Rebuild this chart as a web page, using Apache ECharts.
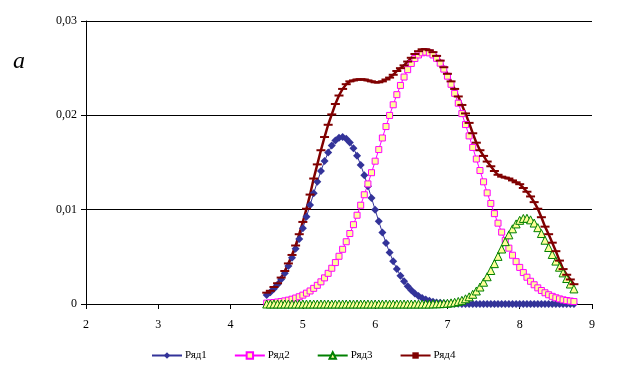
<!DOCTYPE html>
<html>
<head>
<meta charset="utf-8">
<script src="https://cdn.jsdelivr.net/npm/echarts@6/dist/echarts.min.js"></script>
<style>
  html, body { margin: 0; padding: 0; background: #fff; }
  #chart { width: 627px; height: 367px; }
</style>
</head>
<body>
<div id="chart"></div>
<script>
const seriesNames = ["Ряд1", "Ряд2", "Ряд3", "Ряд4"];

const xs = [
  4.50, 4.55, 4.60, 4.65, 4.70, 4.75, 4.80, 4.85, 4.90, 4.95,
  5.00, 5.05, 5.10, 5.15, 5.20, 5.25, 5.30, 5.35, 5.40, 5.45,
  5.50, 5.55, 5.60, 5.65, 5.70, 5.75, 5.80, 5.85, 5.90, 5.95,
  6.00, 6.05, 6.10, 6.15, 6.20, 6.25, 6.30, 6.35, 6.40, 6.45,
  6.50, 6.55, 6.60, 6.65, 6.70, 6.75, 6.80, 6.85, 6.90, 6.95,
  7.00, 7.05, 7.10, 7.15, 7.20, 7.25, 7.30, 7.35, 7.40, 7.45,
  7.50, 7.55, 7.60, 7.65, 7.70, 7.75, 7.80, 7.85, 7.90, 7.95,
  8.00, 8.05, 8.10, 8.15, 8.20, 8.25, 8.30, 8.35, 8.40, 8.45,
  8.50, 8.55, 8.60, 8.65, 8.70, 8.75
];

const ryad1 = [
  0.00095, 0.00125, 0.00162, 0.00208, 0.00263, 0.00327, 0.00403, 0.00489, 0.00585, 0.00690,
  0.00804, 0.00925, 0.01049, 0.01173, 0.01295, 0.01410, 0.01515, 0.01605, 0.01679, 0.01732,
  0.01762, 0.01770, 0.01753, 0.01713, 0.01652, 0.01571, 0.01474, 0.01365, 0.01247, 0.01123,
  0.00999, 0.00876, 0.00758, 0.00647, 0.00545, 0.00453, 0.00371, 0.00300, 0.00240, 0.00189,
  0.00146, 0.00112, 0.00085, 0.00063, 0.00047, 0.00034, 0.00024, 0.00017, 0.00012, 0.00008,
  0.00006, 0.00004, 0.00003, 0.00002, 0.00001, 0, 0, 0, 0, 0,
  0, 0, 0, 0, 0, 0, 0, 0, 0, 0,
  0, 0, 0, 0, 0, 0, 0, 0, 0, 0,
  0, 0, 0, 0, 0, 0
];

const ryad2 = [
  0.00009, 0.00012, 0.00016, 0.00021, 0.00026, 0.00033, 0.00041, 0.00051, 0.00063, 0.00077,
  0.00094, 0.00115, 0.00138, 0.00166, 0.00198, 0.00235, 0.00277, 0.00325, 0.00379, 0.00439,
  0.00506, 0.00580, 0.00660, 0.00747, 0.00841, 0.00941, 0.01047, 0.01158, 0.01273, 0.01392,
  0.01514, 0.01637, 0.01760, 0.01881, 0.01999, 0.02112, 0.02219, 0.02317, 0.02406, 0.02484,
  0.02550, 0.02602, 0.02640, 0.02663, 0.02670, 0.02662, 0.02640, 0.02604, 0.02553, 0.02490,
  0.02415, 0.02329, 0.02233, 0.02129, 0.02018, 0.01902, 0.01782, 0.01660, 0.01537, 0.01415,
  0.01295, 0.01178, 0.01066, 0.00958, 0.00857, 0.00762, 0.00674, 0.00592, 0.00517, 0.00449,
  0.00388, 0.00333, 0.00284, 0.00241, 0.00204, 0.00171, 0.00143, 0.00119, 0.00098, 0.00081,
  0.00066, 0.00054, 0.00044, 0.00037, 0.00031, 0.00026
];

const ryad3 = [
  0, 0, 0, 0, 0, 0, 0, 0, 0, 0,
  0, 0, 0, 0, 0, 0, 0, 0, 0, 0,
  0, 0, 0, 0, 0, 0, 0, 0, 0, 0,
  0, 0, 0, 0, 0, 0, 0, 0, 0, 0,
  0, 0, 0, 0, 0, 0, 0.00001, 0.00002, 0.00003, 0.00005,
  0.00008, 0.00012, 0.00018, 0.00027, 0.00039, 0.00055, 0.00076, 0.00103, 0.00138, 0.00180,
  0.00231, 0.00289, 0.00355, 0.00428, 0.00505, 0.00583, 0.00661, 0.00733, 0.00797, 0.00849,
  0.00887, 0.00907, 0.00909, 0.00892, 0.00858, 0.00809, 0.00747, 0.00676, 0.00599, 0.00525,
  0.00455, 0.00390, 0.00330, 0.00270, 0.00212, 0.00160
];

const ryad4 = [
  0.0012, 0.0014, 0.0018, 0.0022, 0.0028, 0.0035, 0.0043, 0.0052, 0.0062, 0.0074,
  0.0087, 0.0101, 0.0116, 0.0133, 0.0148, 0.0163, 0.0177, 0.0190, 0.0201, 0.0212,
  0.0221, 0.0228, 0.0233, 0.0236, 0.0237, 0.0238, 0.0238, 0.0238, 0.0237, 0.0236,
  0.0235, 0.0235, 0.0236, 0.0238, 0.0240, 0.0243, 0.0247, 0.0250, 0.0253, 0.0257,
  0.0261, 0.0265, 0.0268, 0.0270, 0.0270, 0.0269, 0.0267, 0.0263, 0.0258, 0.0251,
  0.0244, 0.0236, 0.0228, 0.0220, 0.0211, 0.0202, 0.0192, 0.0181, 0.0171, 0.0163,
  0.0157, 0.0151, 0.0146, 0.0141, 0.0137, 0.0135, 0.0134, 0.0133, 0.0131, 0.0129,
  0.0127, 0.0123, 0.0119, 0.0114, 0.0108, 0.0101, 0.0092, 0.0082, 0.0074, 0.0065,
  0.0056, 0.0046, 0.0037, 0.0031, 0.0026, 0.0021
];

const pairs = (ys) => xs.map((x, i) => [x, ys[i]]);
const serifFont = "'Liberation Serif', 'Times New Roman', serif";

const chart = echarts.init(document.getElementById("chart"), null, { renderer: "canvas" });
chart.setOption({
  animation: false,
  backgroundColor: "#fff",
  title: {
    text: "a",
    left: 8,
    top: 45,
    textStyle: { fontFamily: serifFont, fontStyle: "italic", fontWeight: "normal", fontSize: 24, color: "#000" }
  },
  grid: { left: 86, right: 35, top: 21, bottom: 63 },
  legend: {
    left: 146,
    top: 345,
    itemWidth: 30,
    itemHeight: 8,
    itemGap: 27,
    textStyle: { fontFamily: serifFont, fontSize: 11, color: "#000", padding: [0, 0, 0, -2] },
    data: seriesNames
  },
  xAxis: {
    type: "value",
    min: 2,
    max: 9,
    interval: 1,
    axisLine: { lineStyle: { color: "#000", width: 1 } },
    axisTick: { show: true, inside: false, length: 5, lineStyle: { color: "#000" } },
    axisLabel: { fontFamily: serifFont, fontSize: 12, color: "#000", margin: 15 },
    splitLine: { show: false }
  },
  yAxis: {
    type: "value",
    min: 0,
    max: 0.03,
    interval: 0.01,
    axisLine: { show: true, lineStyle: { color: "#000", width: 1 } },
    axisTick: { show: true, length: 5, lineStyle: { color: "#000" } },
    axisLabel: {
      fontFamily: serifFont,
      fontSize: 12,
      color: "#000",
      margin: 9,
      formatter: (v) => (v === 0 ? "0" : v.toFixed(2).replace(".", ","))
    },
    splitLine: { show: true, lineStyle: { color: "#000", width: 1 } }
  },
  series: [
    {
      name: "Ряд1",
      type: "line",
      data: pairs(ryad1),
      symbol: "diamond",
      symbolSize: 8,
      lineStyle: { color: "#333399", width: 1 },
      itemStyle: { color: "#333399", borderWidth: 0 }
    },
    {
      name: "Ряд2",
      type: "line",
      data: pairs(ryad2),
      symbol: "rect",
      symbolSize: 6,
      lineStyle: { color: "#ff00ff", width: 1 },
      itemStyle: { color: "#ffff99", borderColor: "#ff00ff", borderWidth: 1 }
    },
    {
      name: "Ряд3",
      type: "line",
      data: pairs(ryad3),
      symbol: "triangle",
      symbolSize: 8,
      lineStyle: { color: "#008000", width: 1 },
      itemStyle: { color: "#ffff99", borderColor: "#008000", borderWidth: 1 }
    },
    {
      name: "Ряд4",
      type: "line",
      data: pairs(ryad4),
      symbol: "rect",
      symbolSize: [9, 2],
      lineStyle: { color: "#800000", width: 2.5 },
      itemStyle: { color: "#800000", borderWidth: 0 }
    }
  ]
});
</script>
</body>
</html>
